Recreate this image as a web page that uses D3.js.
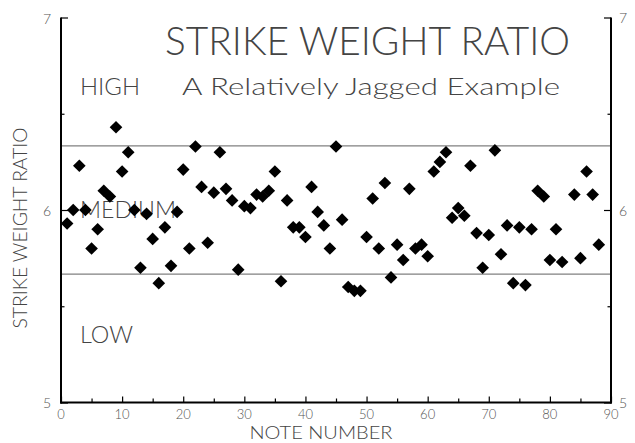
<!DOCTYPE html>
<html><head><meta charset="utf-8">
<script src="https://cdn.jsdelivr.net/npm/d3@7"></script>
<style>
html,body{margin:0;padding:0;background:#fff;}
text{font-family:"Lato","Open Sans",sans-serif;font-weight:300;}
</style></head>
<body><svg id="c" width="635" height="443"></svg>
<script>
const notes = [1,2,3,4,5,6,7,8,9,10,11,12,13,14,15,16,17,18,19,20,21,22,23,24,25,26,27,28,29,30,
  31,32,33,34,35,36,37,38,39,40,41,42,43,44,45,46,47,48,49,50,51,52,53,54,55,56,57,58,59,60,
  61,62,63,64,65,66,67,68,69,70,71,72,73,74,75,76,77,78,79,80,81,82,84,85,86,87,88];
const ratios = [5.93,6.00,6.23,6.00,5.80,5.90,6.10,6.07,6.43,6.20,6.30,6.00,5.70,5.98,5.85,5.62,5.91,5.71,5.99,6.21,
  5.80,6.33,6.12,5.83,6.09,6.30,6.11,6.05,5.69,6.02,6.01,6.08,6.07,6.10,6.20,5.63,6.05,5.91,5.91,5.86,
  6.12,5.99,5.92,5.80,6.33,5.95,5.60,5.58,5.58,5.86,6.06,5.80,6.14,5.65,5.82,5.74,6.11,5.80,5.82,5.76,
  6.20,6.25,6.30,5.96,6.01,5.97,6.23,5.88,5.70,5.87,6.31,5.77,5.92,5.62,5.91,5.61,5.90,6.10,6.07,5.74,
  5.90,5.73,6.08,5.75,6.20,6.08,5.82];
const bands = [5 + 2/3, 6 + 1/3];
const xTicks = [0,10,20,30,40,50,60,70,80,90];
const yTicks = [5,6,7];
const zoneLabels = [{t:"HIGH", v:6.6}, {t:"MEDIUM", v:5.96}, {t:"LOW", v:5.31}];

const svg = d3.select("#c");
const x = d3.scaleLinear().domain([0,90]).range([61,611]);
const y = d3.scaleLinear().domain([5,7]).range([402.5,17.5]);

// reference lines
svg.selectAll("line.band").data(bands).join("line")
  .attr("x1", x(0)).attr("x2", x(90))
  .attr("y1", d=>y(d)).attr("y2", d=>y(d))
  .attr("stroke", "#808080").attr("stroke-width", 1.3);

// axes
const axL = d3.axisRight(y).tickValues(d3.range(5,7.01,0.5)).tickSize(7).tickFormat("");
const axR = d3.axisLeft(y).tickValues(d3.range(5,7.01,0.5)).tickSize(7).tickFormat("");
const axB = d3.axisTop(x).tickValues(d3.range(0,91,5)).tickSize(6).tickFormat("");
function styleAxis(g){
  g.select(".domain").remove();
  g.selectAll(".tick line").attr("stroke","#000").attr("stroke-width",1.2);
}
const gL = svg.append("g").attr("transform",`translate(${x(0)},0)`).call(axL).call(styleAxis);
const gR = svg.append("g").attr("transform",`translate(${x(90)},0)`).call(axR).call(styleAxis);
const gB = svg.append("g").attr("transform",`translate(0,${y(5)})`).call(axB).call(styleAxis);
gL.selectAll(".tick line").attr("x2", d => (Math.abs(d-Math.round(d))<1e-6)?7:3.5);
gR.selectAll(".tick line").attr("x2", d => (Math.abs(d-Math.round(d))<1e-6)?-7:-3.5);
gB.selectAll(".tick line").attr("y2", d => d%10===0?-6:-4);
// axis lines
svg.append("line").attr("x1",x(0)).attr("x2",x(0)).attr("y1",y(7)).attr("y2",y(5)+1).attr("stroke","#000").attr("stroke-width",2);
svg.append("line").attr("x1",x(90)).attr("x2",x(90)).attr("y1",y(7)).attr("y2",y(5)+1).attr("stroke","#000").attr("stroke-width",2);
svg.append("line").attr("x1",x(0)-1).attr("x2",x(90)+1).attr("y1",y(5)).attr("y2",y(5)).attr("stroke","#000").attr("stroke-width",2);

// tick labels
const tickCol = "#555";
svg.selectAll("text.xl").data(xTicks).join("text")
  .attr("x", d=>x(d)).attr("y", 418.5).attr("text-anchor","middle")
  .attr("font-size",13).attr("fill",tickCol).text(d=>d);
svg.selectAll("text.yl").data(yTicks).join("text")
  .attr("x", 51).attr("y", d=>y(d)+ (d===7?6:(d===5?5:6))).attr("text-anchor","end")
  .attr("font-size",14).attr("fill",tickCol).text(d=>d);
svg.selectAll("text.yr").data(yTicks).join("text")
  .attr("x", 619).attr("y", d=>y(d)+ (d===7?5:(d===5?5:6))).attr("text-anchor","start")
  .attr("font-size",14).attr("fill",tickCol).text(d=>d);

// axis titles
svg.append("text").attr("x", 321).attr("y", 439.2).attr("text-anchor","middle")
  .attr("font-size",18).attr("fill","#444").attr("textLength",143).attr("lengthAdjust","spacingAndGlyphs")
  .text("NOTE NUMBER");
svg.append("text").attr("transform","translate(27,228) rotate(-90)").attr("text-anchor","middle")
  .attr("font-size",20).attr("fill","#444").attr("textLength",201).attr("lengthAdjust","spacingAndGlyphs")
  .text("STRIKE WEIGHT RATIO");

// titles
svg.append("text").attr("x",165).attr("y",55).attr("font-size",39).attr("fill","#444")
  .attr("textLength",405).attr("lengthAdjust","spacingAndGlyphs").text("STRIKE WEIGHT RATIO");
svg.append("text").attr("x",182).attr("y",95).attr("font-size",24).attr("fill","#444")
  .attr("textLength",378).attr("lengthAdjust","spacingAndGlyphs").text("A Relatively Jagged Example");

// zone labels
const zoneW = {HIGH:60, MEDIUM:96, LOW:53};
svg.selectAll("text.zone").data(zoneLabels).join("text")
  .attr("x", 80).attr("y", d=>y(d.v)).attr("font-size",24).attr("fill","#444")
  .attr("textLength", d=>zoneW[d.t]).attr("lengthAdjust","spacingAndGlyphs").text(d=>d.t);

// points
const sym = d3.symbol().type(d3.symbolSquare).size(80);
svg.selectAll("path.pt").data(notes.map((n,i)=>({n, v:ratios[i]}))).join("path")
  .attr("transform", d=>`translate(${x(d.n)},${y(d.v)}) rotate(45)`)
  .attr("d", sym).attr("fill","#000");
</script></body></html>
